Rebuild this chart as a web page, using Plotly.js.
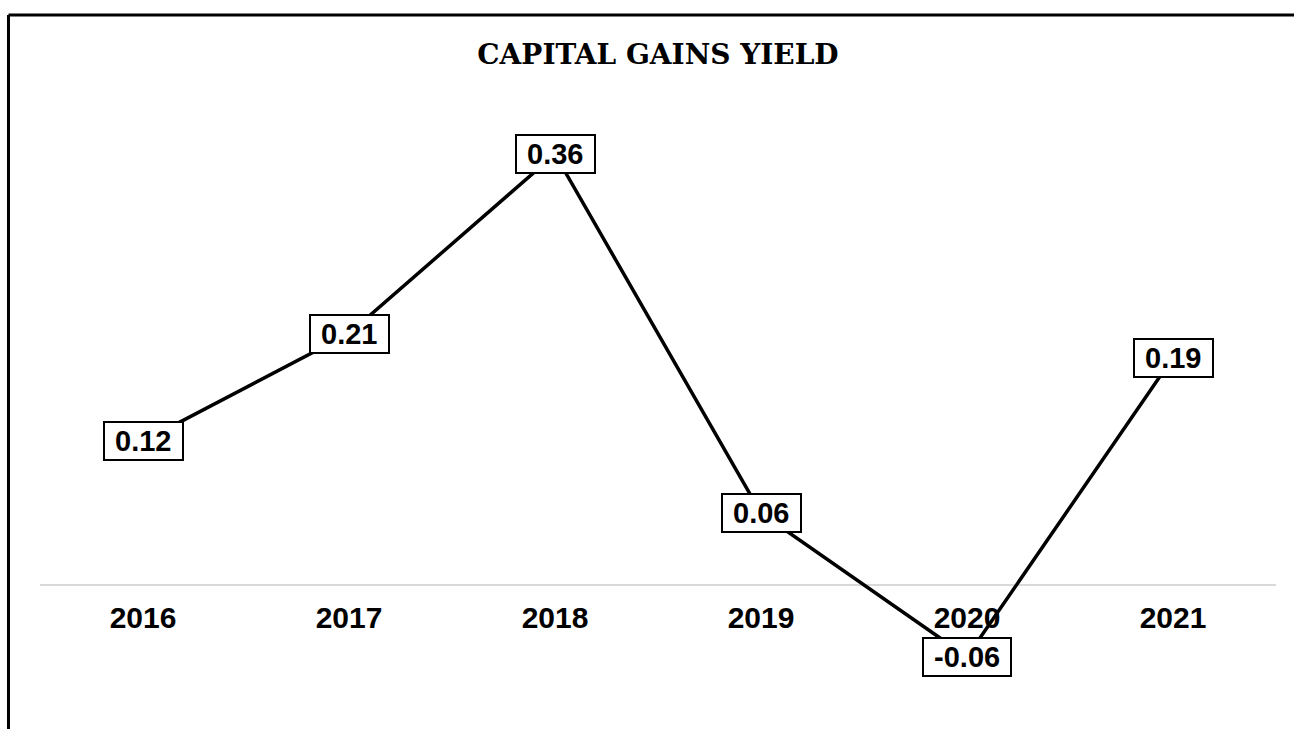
<!DOCTYPE html>
<html>
<head>
<meta charset="utf-8">
<script src="https://cdn.plot.ly/plotly-3.0.1.min.js"></script>
<style>
  html, body { margin: 0; padding: 0; background: #ffffff; }
  #chart { width: 1294px; height: 729px; }
</style>
</head>
<body>
<div id="chart"></div>
<script>
const years = ['2016', '2017', '2018', '2019', '2020', '2021'];
const yieldValues = [0.12, 0.21, 0.36, 0.06, -0.06, 0.19];
const labelTexts = ['0.12', '0.21', '0.36', '0.06', '-0.06', '0.19'];

const trace = {
  type: 'scatter',
  mode: 'lines',
  x: years,
  y: yieldValues,
  line: { color: '#000000', width: 3.5 },
  hoverinfo: 'skip',
  cliponaxis: false
};

const annotations = years.map((yr, i) => ({
  x: i,
  y: yieldValues[i],
  xref: 'x',
  yref: 'y',
  text: '\u00a0' + labelTexts[i] + '\u00a0',
  showarrow: false,
  font: { family: 'Liberation Sans, Arial, sans-serif', size: 29, color: '#000000', weight: 'bold' },
  bgcolor: '#ffffff',
  bordercolor: '#000000',
  borderwidth: 2,
  borderpad: 2,
  xanchor: 'center',
  yanchor: 'middle'
}));

const layout = {
  width: 1294,
  height: 729,
  margin: { l: 40, r: 18, t: 100, b: 29 },
  paper_bgcolor: '#ffffff',
  plot_bgcolor: '#ffffff',
  showlegend: false,
  title: {
    text: '<b>CAPITAL GAINS YIELD</b>',
    font: { family: 'DejaVu Serif, serif', size: 28, color: '#000000' },
    x: 0.5,
    xref: 'paper',
    xanchor: 'center',
    y: 0.926,
    yref: 'container',
    yanchor: 'middle'
  },
  xaxis: {
    type: 'category',
    range: [-0.5, 5.5],
    showgrid: false,
    showline: false,
    zeroline: false,
    ticks: '',
    anchor: 'free',
    position: 0.1917,
    ticklabelstandoff: 12,
    tickfont: { family: 'Liberation Sans, Arial, sans-serif', size: 30, color: '#000000', weight: 'bold' }
  },
  yaxis: {
    range: [-0.0961, 0.4052],
    showgrid: false,
    showline: false,
    showticklabels: false,
    ticks: '',
    zeroline: true,
    zerolinecolor: '#d9d9d9',
    zerolinewidth: 2
  },
  annotations: annotations,
  shapes: [
    { type: 'line', xref: 'paper', yref: 'paper', x0: -0.0255, x1: 1.02, y0: 1.1417, y1: 1.1417,
      line: { color: '#000000', width: 3 } },
    { type: 'line', xref: 'paper', yref: 'paper', x0: -0.0255, x1: -0.0255, y0: 1.1417, y1: -0.06,
      line: { color: '#000000', width: 3 } }
  ]
};

Plotly.newPlot('chart', [trace], layout, { displayModeBar: false, staticPlot: true });
</script>
</body>
</html>
